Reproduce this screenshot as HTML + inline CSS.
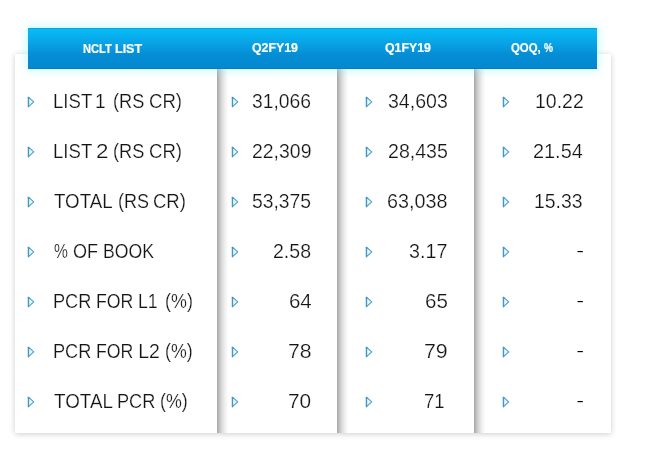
<!DOCTYPE html>
<html><head><meta charset="utf-8"><title>NCLT List</title>
<style>
html,body{margin:0;padding:0;background:#fff;}
body{width:650px;height:459px;position:relative;overflow:hidden;font-family:"Liberation Sans",sans-serif;}
.panel{position:absolute;left:15px;top:54px;width:596.2px;height:378.7px;background:#fff;box-shadow:0 .5px 6px rgba(0,0,0,.2);}
.sh{position:absolute;top:0;bottom:0;width:12px;background:linear-gradient(to right,rgba(0,0,0,.36) 0,rgba(0,0,0,.3) 1px,rgba(0,0,0,.21) 3px,rgba(0,0,0,.125) 5.5px,rgba(0,0,0,.05) 8.5px,rgba(0,0,0,0) 11.5px);}
.hdr{position:absolute;left:28px;top:28px;width:569px;height:40.8px;background:linear-gradient(#06bdf8 0%,#09a8e9 30%,#058dd4 66%,#0388d1 100%);box-shadow:0 0 9px 1px rgba(140,242,255,.56),inset 0 1px 0 rgba(20,90,120,.25),inset 0 -1px 0 rgba(30,90,120,.32);z-index:10;}
.h{position:absolute;left:0;height:20px;line-height:20px;color:#fff;font-weight:bold;font-size:13px;white-space:nowrap;-webkit-text-stroke:0.2px #fff;}
.h span{position:absolute;top:0;transform-origin:0 50%;}
.t{position:absolute;left:0;font-size:19.5px;line-height:22px;height:22px;color:#151515;-webkit-text-stroke:0.22px #fff;white-space:nowrap;}
.t span{position:absolute;top:0;transform-origin:0 50%;}
.t span.d{color:#000;-webkit-text-stroke:0;transform-origin:0 50%;transform:translate(-0.6px,-0.35px) scale(1.14,.72);}
.tri{position:absolute;width:8px;height:12px;}
</style></head><body>

<div class="panel">
<div class="sh" style="left:202.0px"></div>
<div class="sh" style="left:322.2px"></div>
<div class="sh" style="left:459.2px"></div>
</div>
<div class="hdr">
<div class="h" style="top:10.5px;font-size:12.6px"><span style="left:55.03px;transform:scaleX(0.885)">NCLT</span> <span style="left:87.23px;transform:scaleX(0.994)">LIST</span></div>
<div class="h" style="top:9.9px;font-size:12.2px"><span style="left:223.89px;transform:scaleX(1.011)">Q2FY19</span></div>
<div class="h" style="top:9.9px;font-size:12.2px"><span style="left:356.89px;transform:scaleX(1.011)">Q1FY19</span></div>
<div class="h" style="top:9.9px;font-size:12.2px"><span style="left:482.83px;transform:scaleX(0.934)">QOQ,</span> <span style="left:515.69px;transform:scaleX(0.829)">%</span></div>
</div>
<div style="position:absolute;left:0;top:0;width:650px;height:459px;z-index:20">
<svg class="tri" style="left:27.0px;top:96px" viewBox="0 0 8 12"><path d="M1.5 1.2 L6.75 5.95 L1.5 10.7 Z" fill="#e8f7fe" stroke="#4f9fce" stroke-width="1.12" stroke-linejoin="round"/><path d="M1.45 1.3 V10.7" fill="none" stroke="#4696c4" stroke-width="1.3" stroke-linecap="round"/></svg>
<svg class="tri" style="left:230.6px;top:96px" viewBox="0 0 8 12"><path d="M1.5 1.2 L6.75 5.95 L1.5 10.7 Z" fill="#e8f7fe" stroke="#4f9fce" stroke-width="1.12" stroke-linejoin="round"/><path d="M1.45 1.3 V10.7" fill="none" stroke="#4696c4" stroke-width="1.3" stroke-linecap="round"/></svg>
<svg class="tri" style="left:364.8px;top:96px" viewBox="0 0 8 12"><path d="M1.5 1.2 L6.75 5.95 L1.5 10.7 Z" fill="#e8f7fe" stroke="#4f9fce" stroke-width="1.12" stroke-linejoin="round"/><path d="M1.45 1.3 V10.7" fill="none" stroke="#4696c4" stroke-width="1.3" stroke-linecap="round"/></svg>
<svg class="tri" style="left:501.5px;top:96px" viewBox="0 0 8 12"><path d="M1.5 1.2 L6.75 5.95 L1.5 10.7 Z" fill="#e8f7fe" stroke="#4f9fce" stroke-width="1.12" stroke-linejoin="round"/><path d="M1.45 1.3 V10.7" fill="none" stroke="#4696c4" stroke-width="1.3" stroke-linecap="round"/></svg>
<div class="t" style="top:89.5px"><span style="left:53.00px;transform:scaleX(0.953)">LIST</span> <span style="left:95.38px;transform:scaleX(0.979)">1</span> <span style="left:113.18px;transform:scaleX(0.934)">(RS</span> <span style="left:148.70px;transform:scaleX(0.954)">CR)</span></div>
<div class="t" style="top:89.5px"><span style="left:251.96px;transform:scaleX(0.990)">31,066</span></div>
<div class="t" style="top:89.5px"><span style="left:387.75px;transform:scaleX(1.002)">34,603</span></div>
<div class="t" style="top:89.5px"><span style="left:534.70px;transform:scaleX(0.999)">10.22</span></div>
<svg class="tri" style="left:27.0px;top:146px" viewBox="0 0 8 12"><path d="M1.5 1.2 L6.75 5.95 L1.5 10.7 Z" fill="#e8f7fe" stroke="#4f9fce" stroke-width="1.12" stroke-linejoin="round"/><path d="M1.45 1.3 V10.7" fill="none" stroke="#4696c4" stroke-width="1.3" stroke-linecap="round"/></svg>
<svg class="tri" style="left:230.6px;top:146px" viewBox="0 0 8 12"><path d="M1.5 1.2 L6.75 5.95 L1.5 10.7 Z" fill="#e8f7fe" stroke="#4f9fce" stroke-width="1.12" stroke-linejoin="round"/><path d="M1.45 1.3 V10.7" fill="none" stroke="#4696c4" stroke-width="1.3" stroke-linecap="round"/></svg>
<svg class="tri" style="left:364.8px;top:146px" viewBox="0 0 8 12"><path d="M1.5 1.2 L6.75 5.95 L1.5 10.7 Z" fill="#e8f7fe" stroke="#4f9fce" stroke-width="1.12" stroke-linejoin="round"/><path d="M1.45 1.3 V10.7" fill="none" stroke="#4696c4" stroke-width="1.3" stroke-linecap="round"/></svg>
<svg class="tri" style="left:501.5px;top:146px" viewBox="0 0 8 12"><path d="M1.5 1.2 L6.75 5.95 L1.5 10.7 Z" fill="#e8f7fe" stroke="#4f9fce" stroke-width="1.12" stroke-linejoin="round"/><path d="M1.45 1.3 V10.7" fill="none" stroke="#4696c4" stroke-width="1.3" stroke-linecap="round"/></svg>
<div class="t" style="top:139.5px"><span style="left:53.00px;transform:scaleX(0.953)">LIST</span> <span style="left:96.40px;transform:scaleX(1.149)">2</span> <span style="left:113.18px;transform:scaleX(0.934)">(RS</span> <span style="left:148.70px;transform:scaleX(0.954)">CR)</span></div>
<div class="t" style="top:139.5px"><span style="left:251.80px;transform:scaleX(0.997)">22,309</span></div>
<div class="t" style="top:139.5px"><span style="left:387.50px;transform:scaleX(1.004)">28,435</span></div>
<div class="t" style="top:139.5px"><span style="left:533.18px;transform:scaleX(1.020)">21.54</span></div>
<svg class="tri" style="left:27.0px;top:196px" viewBox="0 0 8 12"><path d="M1.5 1.2 L6.75 5.95 L1.5 10.7 Z" fill="#e8f7fe" stroke="#4f9fce" stroke-width="1.12" stroke-linejoin="round"/><path d="M1.45 1.3 V10.7" fill="none" stroke="#4696c4" stroke-width="1.3" stroke-linecap="round"/></svg>
<svg class="tri" style="left:230.6px;top:196px" viewBox="0 0 8 12"><path d="M1.5 1.2 L6.75 5.95 L1.5 10.7 Z" fill="#e8f7fe" stroke="#4f9fce" stroke-width="1.12" stroke-linejoin="round"/><path d="M1.45 1.3 V10.7" fill="none" stroke="#4696c4" stroke-width="1.3" stroke-linecap="round"/></svg>
<svg class="tri" style="left:364.8px;top:196px" viewBox="0 0 8 12"><path d="M1.5 1.2 L6.75 5.95 L1.5 10.7 Z" fill="#e8f7fe" stroke="#4f9fce" stroke-width="1.12" stroke-linejoin="round"/><path d="M1.45 1.3 V10.7" fill="none" stroke="#4696c4" stroke-width="1.3" stroke-linecap="round"/></svg>
<svg class="tri" style="left:501.5px;top:196px" viewBox="0 0 8 12"><path d="M1.5 1.2 L6.75 5.95 L1.5 10.7 Z" fill="#e8f7fe" stroke="#4f9fce" stroke-width="1.12" stroke-linejoin="round"/><path d="M1.45 1.3 V10.7" fill="none" stroke="#4696c4" stroke-width="1.3" stroke-linecap="round"/></svg>
<div class="t" style="top:189.5px"><span style="left:53.97px;transform:scaleX(0.960)">TOTAL</span> <span style="left:117.79px;transform:scaleX(0.924)">(RS</span> <span style="left:152.90px;transform:scaleX(0.948)">CR)</span></div>
<div class="t" style="top:189.5px"><span style="left:252.33px;transform:scaleX(0.991)">53,375</span></div>
<div class="t" style="top:189.5px"><span style="left:387.49px;transform:scaleX(1.013)">63,038</span></div>
<div class="t" style="top:189.5px"><span style="left:534.11px;transform:scaleX(0.996)">15.33</span></div>
<svg class="tri" style="left:27.0px;top:246px" viewBox="0 0 8 12"><path d="M1.5 1.2 L6.75 5.95 L1.5 10.7 Z" fill="#e8f7fe" stroke="#4f9fce" stroke-width="1.12" stroke-linejoin="round"/><path d="M1.45 1.3 V10.7" fill="none" stroke="#4696c4" stroke-width="1.3" stroke-linecap="round"/></svg>
<svg class="tri" style="left:230.6px;top:246px" viewBox="0 0 8 12"><path d="M1.5 1.2 L6.75 5.95 L1.5 10.7 Z" fill="#e8f7fe" stroke="#4f9fce" stroke-width="1.12" stroke-linejoin="round"/><path d="M1.45 1.3 V10.7" fill="none" stroke="#4696c4" stroke-width="1.3" stroke-linecap="round"/></svg>
<svg class="tri" style="left:364.8px;top:246px" viewBox="0 0 8 12"><path d="M1.5 1.2 L6.75 5.95 L1.5 10.7 Z" fill="#e8f7fe" stroke="#4f9fce" stroke-width="1.12" stroke-linejoin="round"/><path d="M1.45 1.3 V10.7" fill="none" stroke="#4696c4" stroke-width="1.3" stroke-linecap="round"/></svg>
<svg class="tri" style="left:501.5px;top:246px" viewBox="0 0 8 12"><path d="M1.5 1.2 L6.75 5.95 L1.5 10.7 Z" fill="#e8f7fe" stroke="#4f9fce" stroke-width="1.12" stroke-linejoin="round"/><path d="M1.45 1.3 V10.7" fill="none" stroke="#4696c4" stroke-width="1.3" stroke-linecap="round"/></svg>
<div class="t" style="top:239.5px"><span style="left:53.75px;transform:scaleX(0.800)">%</span> <span style="left:72.74px;transform:scaleX(0.926)">OF</span> <span style="left:102.88px;transform:scaleX(0.906)">BOOK</span></div>
<div class="t" style="top:239.5px"><span style="left:273.10px;transform:scaleX(1.002)">2.58</span></div>
<div class="t" style="top:239.5px"><span style="left:408.84px;transform:scaleX(1.010)">3.17</span></div>
<div class="t" style="top:239.5px"><span class="d" style="left:577.2px">-</span></div>
<svg class="tri" style="left:27.0px;top:296px" viewBox="0 0 8 12"><path d="M1.5 1.2 L6.75 5.95 L1.5 10.7 Z" fill="#e8f7fe" stroke="#4f9fce" stroke-width="1.12" stroke-linejoin="round"/><path d="M1.45 1.3 V10.7" fill="none" stroke="#4696c4" stroke-width="1.3" stroke-linecap="round"/></svg>
<svg class="tri" style="left:230.6px;top:296px" viewBox="0 0 8 12"><path d="M1.5 1.2 L6.75 5.95 L1.5 10.7 Z" fill="#e8f7fe" stroke="#4f9fce" stroke-width="1.12" stroke-linejoin="round"/><path d="M1.45 1.3 V10.7" fill="none" stroke="#4696c4" stroke-width="1.3" stroke-linecap="round"/></svg>
<svg class="tri" style="left:364.8px;top:296px" viewBox="0 0 8 12"><path d="M1.5 1.2 L6.75 5.95 L1.5 10.7 Z" fill="#e8f7fe" stroke="#4f9fce" stroke-width="1.12" stroke-linejoin="round"/><path d="M1.45 1.3 V10.7" fill="none" stroke="#4696c4" stroke-width="1.3" stroke-linecap="round"/></svg>
<svg class="tri" style="left:501.5px;top:296px" viewBox="0 0 8 12"><path d="M1.5 1.2 L6.75 5.95 L1.5 10.7 Z" fill="#e8f7fe" stroke="#4f9fce" stroke-width="1.12" stroke-linejoin="round"/><path d="M1.45 1.3 V10.7" fill="none" stroke="#4696c4" stroke-width="1.3" stroke-linecap="round"/></svg>
<div class="t" style="top:289.5px"><span style="left:53.04px;transform:scaleX(0.932)">PCR</span> <span style="left:95.87px;transform:scaleX(0.909)">FOR</span> <span style="left:138.28px;transform:scaleX(0.910)">L1</span> <span style="left:164.80px;transform:scaleX(0.918)">(%)</span></div>
<div class="t" style="top:289.5px"><span style="left:288.65px;transform:scaleX(1.048)">64</span></div>
<div class="t" style="top:289.5px"><span style="left:424.75px;transform:scaleX(1.052)">65</span></div>
<div class="t" style="top:289.5px"><span class="d" style="left:577.2px">-</span></div>
<svg class="tri" style="left:27.0px;top:346px" viewBox="0 0 8 12"><path d="M1.5 1.2 L6.75 5.95 L1.5 10.7 Z" fill="#e8f7fe" stroke="#4f9fce" stroke-width="1.12" stroke-linejoin="round"/><path d="M1.45 1.3 V10.7" fill="none" stroke="#4696c4" stroke-width="1.3" stroke-linecap="round"/></svg>
<svg class="tri" style="left:230.6px;top:346px" viewBox="0 0 8 12"><path d="M1.5 1.2 L6.75 5.95 L1.5 10.7 Z" fill="#e8f7fe" stroke="#4f9fce" stroke-width="1.12" stroke-linejoin="round"/><path d="M1.45 1.3 V10.7" fill="none" stroke="#4696c4" stroke-width="1.3" stroke-linecap="round"/></svg>
<svg class="tri" style="left:364.8px;top:346px" viewBox="0 0 8 12"><path d="M1.5 1.2 L6.75 5.95 L1.5 10.7 Z" fill="#e8f7fe" stroke="#4f9fce" stroke-width="1.12" stroke-linejoin="round"/><path d="M1.45 1.3 V10.7" fill="none" stroke="#4696c4" stroke-width="1.3" stroke-linecap="round"/></svg>
<svg class="tri" style="left:501.5px;top:346px" viewBox="0 0 8 12"><path d="M1.5 1.2 L6.75 5.95 L1.5 10.7 Z" fill="#e8f7fe" stroke="#4f9fce" stroke-width="1.12" stroke-linejoin="round"/><path d="M1.45 1.3 V10.7" fill="none" stroke="#4696c4" stroke-width="1.3" stroke-linecap="round"/></svg>
<div class="t" style="top:339.5px"><span style="left:53.04px;transform:scaleX(0.932)">PCR</span> <span style="left:95.87px;transform:scaleX(0.909)">FOR</span> <span style="left:138.13px;transform:scaleX(1.000)">L2</span> <span style="left:165.01px;transform:scaleX(0.911)">(%)</span></div>
<div class="t" style="top:339.5px"><span style="left:288.01px;transform:scaleX(1.087)">78</span></div>
<div class="t" style="top:339.5px"><span style="left:423.81px;transform:scaleX(1.094)">79</span></div>
<div class="t" style="top:339.5px"><span class="d" style="left:577.2px">-</span></div>
<svg class="tri" style="left:27.0px;top:396px" viewBox="0 0 8 12"><path d="M1.5 1.2 L6.75 5.95 L1.5 10.7 Z" fill="#e8f7fe" stroke="#4f9fce" stroke-width="1.12" stroke-linejoin="round"/><path d="M1.45 1.3 V10.7" fill="none" stroke="#4696c4" stroke-width="1.3" stroke-linecap="round"/></svg>
<svg class="tri" style="left:230.6px;top:396px" viewBox="0 0 8 12"><path d="M1.5 1.2 L6.75 5.95 L1.5 10.7 Z" fill="#e8f7fe" stroke="#4f9fce" stroke-width="1.12" stroke-linejoin="round"/><path d="M1.45 1.3 V10.7" fill="none" stroke="#4696c4" stroke-width="1.3" stroke-linecap="round"/></svg>
<svg class="tri" style="left:364.8px;top:396px" viewBox="0 0 8 12"><path d="M1.5 1.2 L6.75 5.95 L1.5 10.7 Z" fill="#e8f7fe" stroke="#4f9fce" stroke-width="1.12" stroke-linejoin="round"/><path d="M1.45 1.3 V10.7" fill="none" stroke="#4696c4" stroke-width="1.3" stroke-linecap="round"/></svg>
<svg class="tri" style="left:501.5px;top:396px" viewBox="0 0 8 12"><path d="M1.5 1.2 L6.75 5.95 L1.5 10.7 Z" fill="#e8f7fe" stroke="#4f9fce" stroke-width="1.12" stroke-linejoin="round"/><path d="M1.45 1.3 V10.7" fill="none" stroke="#4696c4" stroke-width="1.3" stroke-linecap="round"/></svg>
<div class="t" style="top:389.5px"><span style="left:53.67px;transform:scaleX(0.965)">TOTAL</span> <span style="left:117.04px;transform:scaleX(0.932)">PCR</span> <span style="left:160.31px;transform:scaleX(0.915)">(%)</span></div>
<div class="t" style="top:389.5px"><span style="left:288.03px;transform:scaleX(1.067)">70</span></div>
<div class="t" style="top:389.5px"><span style="left:423.95px;transform:scaleX(0.947)">71</span></div>
<div class="t" style="top:389.5px"><span class="d" style="left:577.2px">-</span></div>
</div></body></html>
